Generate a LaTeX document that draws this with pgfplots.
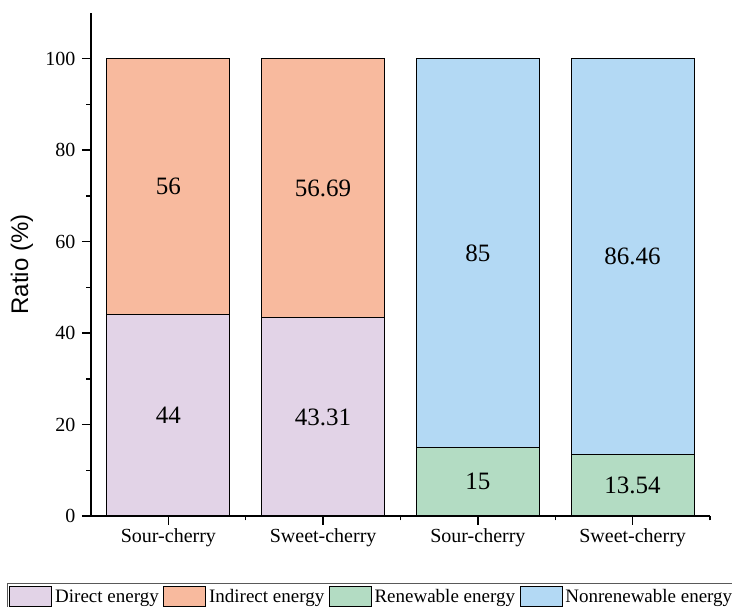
\documentclass[border=0pt]{standalone}
\usepackage{fontspec}
\setmainfont{Liberation Serif}
\newfontfamily\arialfont{Liberation Sans}
\usepackage{pgfplots}
\pgfplotsset{compat=1.18}
\definecolor{cDirect}{RGB}{226,211,231}
\definecolor{cIndirect}{RGB}{248,186,158}
\definecolor{cRenew}{RGB}{179,220,195}
\definecolor{cNonrenew}{RGB}{179,217,244}
\begin{document}
\begin{tikzpicture}
\begin{axis}[
  name=ax,
  at={(0,0)}, anchor=south west,
  scale only axis,
  width=619pt, height=503pt,
  xmin=-0.5, xmax=3.5,
  ymin=0, ymax=110,
  ybar stacked,
  bar width=123pt,
  axis x line*=bottom,
  axis y line*=left,
  axis line style={line width=1.4pt},
  tick align=outside,
  tick style={line width=1.4pt, black},
  major tick length=9pt,
  minor tick length=4.5pt,
  xtick={0,1,2,3},
  xticklabels={Sour-cherry,Sweet-cherry,Sour-cherry,Sweet-cherry},
  minor xtick={0.5,1.5,2.5,3.5},
  ytick={0,20,40,60,80,100},
  minor ytick={10,30,50,70,90},
  /pgf/number format/assume math mode=true,
  ticklabel style={font=\fontsize{20}{24}\selectfont},
  yticklabel style={xshift=-3pt},
  ylabel={Ratio (\%)},
  ylabel style={font=\arialfont\fontsize{24}{28}\selectfont, at={(axis description cs:-0.1115,0.5)}, anchor=center, rotate=0},
  legend columns=4,
  legend cell align=left,
  legend style={at={(axis description cs:-0.1357,-0.1332)}, anchor=north west,
    draw=gray!70!black, line width=0.8pt,
    font=\fontsize{19}{22}\selectfont,
    inner xsep=2pt, inner ysep=3pt,
    /tikz/every even column/.append style={column sep=1.5pt},
    nodes={inner xsep=3pt}},
  legend image code/.code={\draw[#1, line width=0.8pt] (0pt,-10pt) rectangle (42pt,10pt);},
]
\addplot[fill=cDirect, draw=black, line width=1pt, forget plot] coordinates {(0,44) (1,43.31) (2,0) (3,0)};
\addplot[fill=cRenew, draw=black, line width=1pt, forget plot] coordinates {(0,0) (1,0) (2,15) (3,13.54)};
\addplot[fill=cIndirect, draw=black, line width=1pt, forget plot] coordinates {(0,56) (1,56.69) (2,0) (3,0)};
\addplot[fill=cNonrenew, draw=black, line width=1pt, forget plot] coordinates {(0,0) (1,0) (2,85) (3,86.46)};
\addlegendimage{fill=cDirect, draw=black}
\addlegendentry{Direct energy}
\addlegendimage{fill=cIndirect, draw=black}
\addlegendentry{Indirect energy}
\addlegendimage{fill=cRenew, draw=black}
\addlegendentry{Renewable energy}
\addlegendimage{fill=cNonrenew, draw=black}
\addlegendentry{Nonrenewable energy}
\coordinate (L1) at (axis cs:0,22);
\coordinate (L2) at (axis cs:1,21.655);
\coordinate (L3) at (axis cs:0,72);
\coordinate (L4) at (axis cs:1,71.655);
\coordinate (L5) at (axis cs:2,7.5);
\coordinate (L6) at (axis cs:3,6.77);
\coordinate (L7) at (axis cs:2,57.5);
\coordinate (L8) at (axis cs:3,56.77);
\end{axis}
\begin{scope}[every node/.style={font=\fontsize{25}{30}\selectfont}]
\node at (L1) {44};
\node at (L2) {43.31};
\node at (L3) {56};
\node at (L4) {56.69};
\node at (L5) {15};
\node at (L6) {13.54};
\node at (L7) {85};
\node at (L8) {86.46};
\end{scope}
\pgfresetboundingbox
\path ([xshift=-91pt,yshift=-91pt]ax.south west) rectangle ([xshift=641pt,yshift=516pt]ax.south west);
\end{tikzpicture}
\end{document}
